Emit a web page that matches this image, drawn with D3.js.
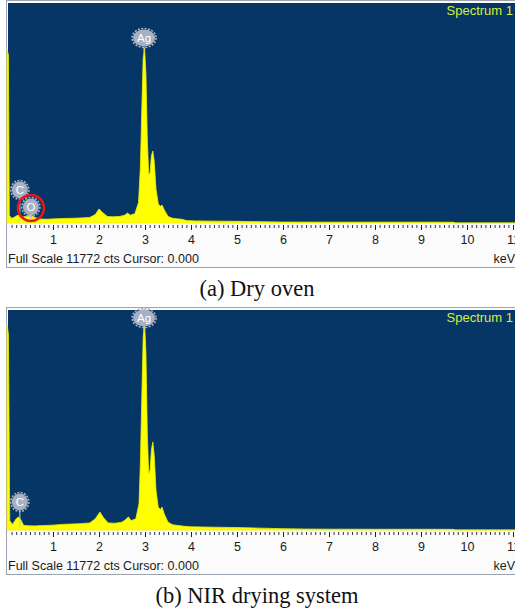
<!DOCTYPE html>
<html>
<head>
<meta charset="utf-8">
<script src="https://cdn.jsdelivr.net/npm/d3@7"></script>
<style>
	body { margin: 0; background: #fff; }
	svg { display: block; }
</style>
</head>
<body>
<div class="canva"></div>
<script>
// EDS spectra, energy in keV, counts in cts
const fullScale = 11772;
const tickLabels = [1, 2, 3, 4, 5, 6, 7, 8, 9, 10, 11];

const energyA = [0, 0.03, 0.05, 0.1, 0.15, 0.2, 0.28, 0.35, 0.45, 0.52, 0.6, 0.7, 0.85, 1.0, 1.2, 1.4, 1.6, 1.8, 1.92, 2.0, 2.08, 2.18, 2.3, 2.45, 2.56, 2.62, 2.68, 2.78, 2.86, 2.9, 2.93, 2.96, 2.99, 3.02, 3.05, 3.08, 3.11, 3.14, 3.17, 3.2, 3.24, 3.29, 3.34, 3.37, 3.42, 3.5, 3.6, 3.72, 3.8, 3.9, 4.1, 4.5, 5.0, 5.5, 6.0, 7.0, 8.0, 9.0, 9.7, 9.75, 11.2];
const countsA = [9300, 9000, 400, 250, 300, 380, 450, 320, 380, 430, 300, 220, 200, 220, 240, 250, 270, 300, 450, 750, 560, 350, 330, 350, 420, 535, 420, 500, 1100, 3000, 6000, 8800, 9360, 8000, 4500, 2600, 2700, 3600, 3850, 3300, 1800, 1000, 900, 960, 700, 350, 250, 220, 200, 130, 110, 100, 90, 70, 50, 45, 45, 45, 40, 0, 0];

const energyB = [0, 0.03, 0.06, 0.12, 0.2, 0.25, 0.3, 0.36, 0.45, 0.6, 0.8, 1.0, 1.2, 1.4, 1.6, 1.8, 1.92, 2.02, 2.1, 2.2, 2.35, 2.5, 2.58, 2.64, 2.7, 2.8, 2.87, 2.9, 2.93, 2.96, 2.99, 3.02, 3.05, 3.08, 3.11, 3.14, 3.17, 3.2, 3.24, 3.29, 3.34, 3.37, 3.42, 3.5, 3.6, 3.72, 3.85, 4.0, 4.5, 5.0, 5.5, 6.0, 6.5, 7.0, 8.0, 9.0, 9.7, 9.75, 11.2];
const countsB = [11000, 10500, 500, 300, 600, 700, 550, 250, 230, 220, 240, 260, 300, 320, 340, 380, 600, 960, 650, 380, 360, 420, 560, 700, 500, 600, 1400, 3600, 7000, 10300, 11130, 9500, 5200, 3000, 3200, 4300, 4710, 4000, 2100, 1200, 1100, 1230, 850, 420, 280, 240, 200, 170, 150, 130, 100, 70, 50, 45, 40, 40, 35, 0, 0];

// element markers: symbol, line energy, label height (cts)
const elementsA = ["Ag", "C", "O"];
const elemEnergyA = [2.98, 0.28, 0.52];
const elemLabelA = [9900, 1770, 860];
const elementsB = ["Ag", "C"];
const elemEnergyB = [2.98, 0.28];
const elemLabelB = [11340, 1500];

const captions = ["(a) Dry oven", "(b) NIR drying system"];

const svg = d3.select(".canva")
	.append("svg")
	.attr("width", 515)
	.attr("height", 610);

const x = d3.scaleLinear().domain([0, 11]).range([7, 513]);
const sans = "Liberation Sans, Arial, sans-serif";

function drawPanel(top, energy, counts, elems, elemE, elemL, caption, mark) {
	const g = svg.append("g").attr("transform", `translate(0,${top})`);
	const y = d3.scaleLinear().domain([0, fullScale]).range([223, 3]);

	// frame + white strip
	g.append("rect")
		.attr("x", 6.5).attr("y", 0.5)
		.attr("width", 515).attr("height", 267)
		.attr("fill", "#fbfbfb")
		.attr("stroke", "#9aa3b0");
	// blue plot area
	g.append("rect")
		.attr("x", 8).attr("y", 3)
		.attr("width", 507).attr("height", 220)
		.attr("fill", "#053666");

	const data = energy.map((e, i) => ({ e: e, c: counts[i] }));
	const area = d3.area()
		.x(d => x(d.e))
		.y0(y(0))
		.y1(d => y(d.c));
	g.append("path")
		.datum(data)
		.attr("d", area)
		.attr("fill", "#ffff00")
		.attr("stroke", "#f0f000")
		.attr("stroke-width", 0.8);

	// ticks
	const minor = d3.range(1, 111).map(d => d / 10);
	g.append("g")
		.attr("transform", "translate(0,225)")
		.call(d3.axisBottom(x).tickValues(minor).tickSize(3).tickFormat(""))
		.call(s => s.select(".domain").remove())
		.selectAll("line").attr("stroke", "#333");
	g.append("g")
		.attr("transform", "translate(0,225)")
		.call(d3.axisBottom(x).tickValues(tickLabels).tickSize(5).tickPadding(5).tickFormat(d3.format("d")))
		.call(s => s.select(".domain").remove())
		.call(s => s.selectAll("line").attr("stroke", "#222"))
		.selectAll("text")
		.attr("font-family", sans)
		.attr("font-size", 12.5)
		.attr("fill", "#1a1a1a");

	g.append("text")
		.attr("x", 8).attr("y", 263)
		.attr("font-family", sans)
		.attr("font-size", 12.5)
		.attr("fill", "#1a1a1a")
		.text("Full Scale 11772 cts Cursor: 0.000");
	g.append("text")
		.attr("x", 515).attr("y", 263)
		.attr("text-anchor", "end")
		.attr("font-family", sans)
		.attr("font-size", 12.5)
		.attr("fill", "#1a1a1a")
		.text("keV");

	g.append("text")
		.attr("x", 513).attr("y", 15)
		.attr("text-anchor", "end")
		.attr("font-family", sans)
		.attr("font-size", 13)
		.attr("fill", "#d8ee3c")
		.text("Spectrum 1");

	// element labels
	elems.forEach((el, i) => {
		const cx = x(elemE[i]);
		const cy = y(elemL[i]);
		const rx = el.length > 1 ? 11 : 8;
		g.append("line")
			.attr("x1", cx).attr("x2", cx)
			.attr("y1", cy).attr("y2", el == "Ag" ? cy + 14 : y(0) - 2)
			.attr("stroke", "#c4ccd8").attr("stroke-width", 1);
		g.append("ellipse")
			.attr("cx", cx).attr("cy", cy)
			.attr("rx", rx + 1).attr("ry", 9.5)
			.attr("fill", "none")
			.attr("stroke", "#a7b1c4").attr("stroke-width", 1.6)
			.attr("stroke-dasharray", "2 1.4");
		g.append("ellipse")
			.attr("cx", cx).attr("cy", cy)
			.attr("rx", rx).attr("ry", 8.5)
			.attr("fill", "#a7b1c4");
		g.append("text")
			.attr("x", cx).attr("y", cy + 4)
			.attr("text-anchor", "middle")
			.attr("font-family", sans)
			.attr("font-size", 11.5)
			.attr("fill", "#ffffff")
			.text(el);
		if (el == mark) {
			g.append("circle")
				.attr("cx", cx).attr("cy", cy + 1)
				.attr("r", 13)
				.attr("fill", "none")
				.attr("stroke", "#e41a1a")
				.attr("stroke-width", 2.5);
		}
	});

	g.append("text")
		.attr("x", 257).attr("y", 296)
		.attr("text-anchor", "middle")
		.attr("font-family", "Liberation Serif, Times New Roman, serif")
		.attr("font-size", 22.5)
		.attr("fill", "#111")
		.text(caption);
}

drawPanel(0, energyA, countsA, elementsA, elemEnergyA, elemLabelA, captions[0], "O");
drawPanel(307, energyB, countsB, elementsB, elemEnergyB, elemLabelB, captions[1], null);
</script>
</body>
</html>
